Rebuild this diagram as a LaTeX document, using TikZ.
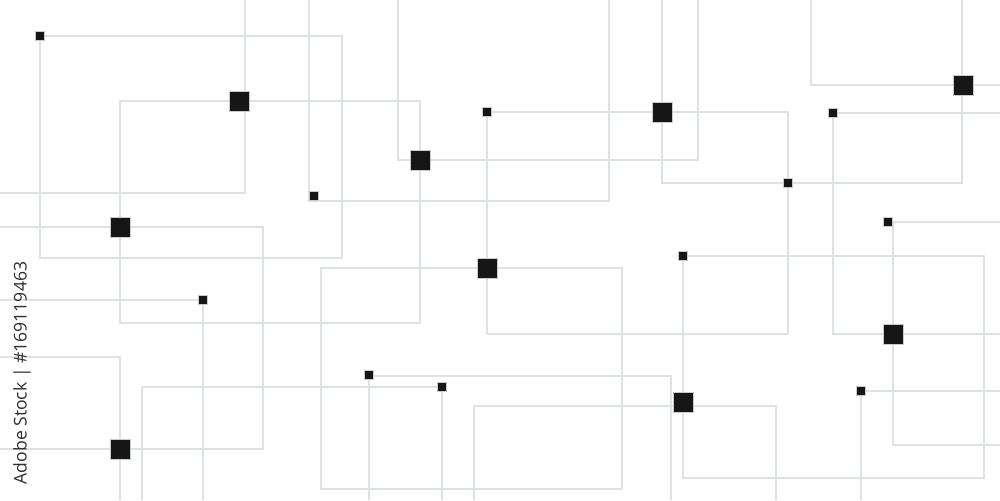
\documentclass[tikz,border=0pt]{standalone}
\usepackage{fontspec}
\newfontfamily\wmfont{Open Sans}
\begin{document}
\begin{tikzpicture}[x=0.02cm,y=-0.02cm,
  wire/.style={draw=lineGray,line width=0.8pt},
  smallsq/.style={draw=sqEdge,fill=sqFill,line width=0.4pt,minimum size=0.19cm,inner sep=0pt,outer sep=0pt},
  bigsq/.style={draw=sqEdge,fill=sqFill,line width=0.4pt,minimum size=0.40cm,inner sep=0pt,outer sep=0pt},
  wmark/.style={font=\wmfont\fontsize{10}{11}\selectfont,text=wmGray,rotate=90,inner sep=0pt}]
\definecolor{lineGray}{HTML}{DFE2E4}
\definecolor{sqFill}{HTML}{161616}
\definecolor{sqEdge}{HTML}{C8CACC}
\definecolor{wmGray}{HTML}{2E2E2E}
\fill[white] (0,0) rectangle (1000,500);
\useasboundingbox (0,0) rectangle (1000,500);

% wires
\draw[wire] (40,36) -- (342,36) -- (342,258) -- (40,258) -- cycle;
\draw[wire] (245,0) -- (245,193) -- (0,193);
\draw[wire] (120,101) -- (420,101) -- (420,323) -- (120,323) -- cycle;
\draw[wire] (0,227) -- (263,227) -- (263,449) -- (0,449);
\draw[wire] (0,357) -- (120,357) -- (120,500);
\draw[wire] (0,300) -- (203,300) -- (203,500);
\draw[wire] (142,500) -- (142,387) -- (442,387) -- (442,500);
\draw[wire] (321,268) -- (622,268) -- (622,489) -- (321,489) -- cycle;
\draw[wire] (487,112) -- (788,112) -- (788,334) -- (487,334) -- cycle;
\draw[wire] (662,0) -- (662,183) -- (962,183) -- (962,0);
\draw[wire] (698,0) -- (698,160) -- (398,160) -- (398,0);
\draw[wire] (309,0) -- (309,201) -- (609,201) -- (609,0);
\draw[wire] (811,0) -- (811,85) -- (1000,85);
\draw[wire] (1000,113) -- (833,113) -- (833,334) -- (1000,334);
\draw[wire] (1000,222) -- (893,222) -- (893,445) -- (1000,445);
\draw[wire] (683,256) -- (984,256) -- (984,478) -- (683,478) -- cycle;
\draw[wire] (474,500) -- (474,406) -- (776,406) -- (776,500);
\draw[wire] (369,500) -- (369,376) -- (671,376) -- (671,500);
\draw[wire] (861,500) -- (861,391) -- (1000,391);

% small squares
\node[smallsq] (s1) at (40,36) {};
\node[smallsq] (s2) at (314,196) {};
\node[smallsq] (s3) at (487,112) {};
\node[smallsq] (s4) at (788,183) {};
\node[smallsq] (s5) at (833,113) {};
\node[smallsq] (s6) at (888,222) {};
\node[smallsq] (s7) at (203,300) {};
\node[smallsq] (s8) at (683,256) {};
\node[smallsq] (s9) at (369,375) {};
\node[smallsq] (s10) at (442,387) {};
\node[smallsq] (s11) at (861,391) {};

% large squares
\node[bigsq] (b1) at (239,101) {};
\node[bigsq] (b2) at (420,160) {};
\node[bigsq] (b3) at (662,112) {};
\node[bigsq] (b4) at (963,85) {};
\node[bigsq] (b5) at (120,227) {};
\node[bigsq] (b6) at (487,268) {};
\node[bigsq] (b7) at (893,334) {};
\node[bigsq] (b8) at (120,449) {};
\node[bigsq] (b9) at (683,402) {};

% vertical label
\node[wmark] (wm) at (22,373) {Adobe Stock | \#169119463};
\end{tikzpicture}
\end{document}
